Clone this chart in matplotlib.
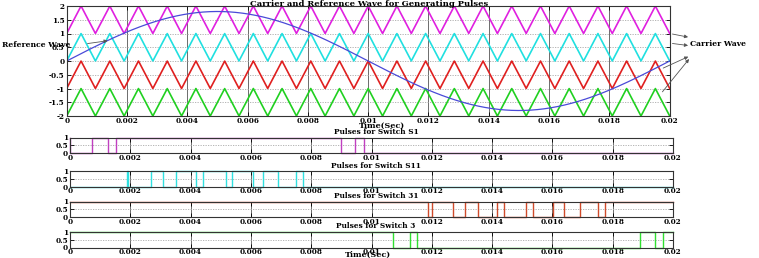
import numpy as np
import matplotlib
matplotlib.use("Agg")
import matplotlib.pyplot as plt

# carrier / reference parameters
f_ref = 50.0          # reference sine, Hz
ref_amp = 1.8
f_car = 1050.0        # 21 carrier periods in 0.02 s
carrier_offsets = [1, 0, -1, -2]
carrier_colors = ['#e020e0', '#20e0e0', '#e02020', '#20d020']
t_end = 0.02

# switching instants (s) and the level each pulse train starts from
s1_start = 1
s1_edges = [0.0, 0.00072, 0.00126, 0.00152, 0.0090, 0.00946, 0.00976]
s11_start = 0
s11_edges = [0.0019, 0.00194, 0.0027, 0.00309, 0.00353, 0.00418, 0.00441,
             0.00518, 0.00537, 0.00606, 0.00639, 0.00691, 0.00751, 0.00773]
s31_start = 1
s31_edges = [0.01189, 0.0120, 0.01269, 0.01309, 0.01352, 0.01417, 0.0144,
             0.01514, 0.01534, 0.01602, 0.01639, 0.01691, 0.01752, 0.01774]
s3_start = 1
s3_edges = [0.01072, 0.01128, 0.0115, 0.01891, 0.01939, 0.01967]

pulse_titles = ['Pulses for Switch S1', 'Pulses for Switch S11',
                'Pulses for Switch 31', 'Pulses for Switch 3']
pulse_colors = ['#c040c0', '#30e0e0', '#d04a2a', '#30e030']
xticks = [0, 0.002, 0.004, 0.006, 0.008, 0.01, 0.012, 0.014, 0.016, 0.018, 0.02]
xticklabels = ['0', '0.002', '0.004', '0.006', '0.008', '0.01', '0.012',
               '0.014', '0.016', '0.018', '0.02']

FONT = 'DejaVu Serif'
plt.rcParams['font.family'] = FONT
plt.rcParams['font.weight'] = 'bold'


def style_axes(ax, yticks, ylabels):
    ax.set_xlim(0, t_end)
    ax.set_xticks(xticks)
    ax.set_xticklabels(xticklabels, fontsize=5.2, fontweight='bold')
    ax.set_yticks(yticks)
    ax.set_yticklabels(ylabels, fontsize=5.2, fontweight='bold')
    ax.tick_params(direction='in', length=3, width=0.6, pad=1.5,
                   top=True, right=True)
    ax.tick_params(axis='x', pad=0.6)
    for s in ax.spines.values():
        s.set_linewidth(0.8)
        s.set_color('#333333')
    for x in xticks[1:-1]:
        ax.axvline(x, color='#555555', lw=0.6, zorder=0)
    for y in yticks[1:-1]:
        ax.axhline(y, color='#aaaaaa', lw=0.6, ls=(0, (1.5, 1.5)), zorder=0)


def pulse_train(start, edges):
    t = [0.0] + list(edges) + [t_end]
    v = [start]
    for _ in edges:
        v.append(1 - v[-1])
    v.append(v[-1])
    return t, v


fig = plt.figure(figsize=(7.59, 2.58), dpi=100)
W, H = 759.0, 258.0

# main carrier/reference plot
ax = fig.add_axes([66.7 / W, 1 - 116 / H, 603 / W, 110 / H])
t = np.linspace(0, t_end, 4001)
tri = 1 - 2 * np.abs((t * f_car) % 1 - 0.5)   # 0 at t=0, 1 at half period
for off, c in zip(carrier_offsets, carrier_colors):
    ax.plot(t, off + tri, color=c, lw=1.2)
ax.plot(t, ref_amp * np.sin(2 * np.pi * f_ref * t), color='#4a4ad8', lw=0.9)
ax.set_ylim(-2, 2)
style_axes(ax, [-2, -1.5, -1, -0.5, 0, 0.5, 1, 1.5, 2],
           ['-2', '-1.5', '-1', '-0.5', '0', '0.5', '1', '1.5', '2'])
fig.text(369 / W, 1 - 4 / H, 'Carrier and Reference Wave for Generating Pulses',
         fontsize=6, fontweight='bold', ha='center', va='center')
fig.text(382 / W, 1 - 126 / H, 'Time(Sec)', fontsize=5.8, fontweight='bold',
         ha='center', va='center')

# annotations
fig.text(2 / W, 1 - 45 / H, 'Reference Wave', fontsize=5.5, fontweight='bold',
         ha='left', va='center')
ax.annotate('', xy=(0.00145, 0.75), xytext=(0.00060, 0.62),
            arrowprops=dict(arrowstyle='-|>', color='#555555', lw=0.6,
                            mutation_scale=5))
fig.text(690 / W, 1 - 44 / H, 'Carrier Wave', fontsize=5.5, fontweight='bold',
         ha='left', va='center')
for xs, ys, ye in [(0.02, 1.0, 0.85), (0.02, 0.65, 0.55),
                   (0.0197, -0.3, 0.2), (0.0197, -1.2, 0.15)]:
    ax.annotate('', xy=(0.0207, ye), xytext=(xs, ys),
                xycoords='data', annotation_clip=False,
                arrowprops=dict(arrowstyle='-|>', color='#555555', lw=0.6,
                                mutation_scale=5))

# pulse plots
tops = [137.5, 171, 201.5, 232]
starts = [s1_start, s11_start, s31_start, s3_start]
edges_all = [s1_edges, s11_edges, s31_edges, s3_edges]
for i in range(4):
    pax = fig.add_axes([70 / W, 1 - (tops[i] + 15.5) / H, 603 / W, 15.5 / H])
    tt, vv = pulse_train(starts[i], edges_all[i])
    pax.step(tt, vv, where='post', color=pulse_colors[i], lw=1.0,
             clip_on=False)
    pax.set_ylim(0, 1)
    style_axes(pax, [0, 0.5, 1], ['0', '0.5', '1'])
    fig.text(376 / W, 1 - (tops[i] - 5.5) / H, pulse_titles[i], fontsize=5.3,
             fontweight='bold', ha='center', va='center')

fig.text(368 / W, 1 - 255 / H, 'Time(Sec)', fontsize=5.8, fontweight='bold',
         ha='center', va='center')

fig.savefig('out.png', dpi=100)
